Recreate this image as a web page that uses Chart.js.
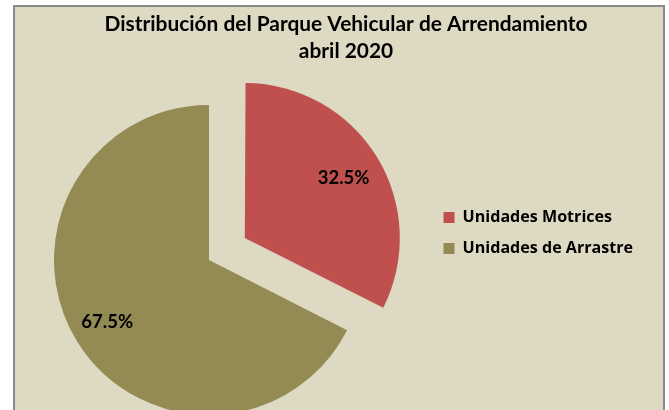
<!DOCTYPE html>
<html>
<head>
<meta charset="utf-8">
<script src="https://cdn.jsdelivr.net/npm/chart.js@4/dist/chart.umd.min.js"></script>
<style>
  html, body { margin: 0; padding: 0; width: 669px; height: 410px; overflow: hidden; background: #ffffff; }
  #frame { position: absolute; left: 13px; top: 5px; width: 652px; height: 430px; box-sizing: border-box;
           border: 2px solid #8a8a8a; background: #DDD9C3; }
  #wrap { position: absolute; left: -20px; top: 0px; width: 740px; height: 466px; }
</style>
</head>
<body>
<div id="frame"></div>
<div id="wrap"><canvas id="c"></canvas></div>
<script>
// ---- data ----
const titleLines = ['Distribución del Parque Vehicular de Arrendamiento', 'abril 2020'];
const categories = ['Unidades Motrices', 'Unidades de Arrastre'];
const shares = [32.5, 67.5];
const colors = ['#C0504D', '#948A54'];
const explodePx = [42, 0];

// keep an exploded slice the same radius as the others (Excel-style explosion)
const equalRadiusPlugin = {
  id: 'equalRadius',
  afterDatasetUpdate(chart, args) {
    args.meta.data.forEach(arc => {
      const shift = (arc.options.offset || 0) / 4;
      const fix = 1 - Math.sin(Math.min(Math.PI, arc.circumference || 0));
      arc.outerRadius -= shift * fix;
    });
  }
};

// fixed legend column width
const legendWidthPlugin = {
  id: 'legendWidth',
  beforeInit(chart) {
    const lg = chart.legend;
    if (!lg) return;
    const orig = lg.fit.bind(lg);
    lg.fit = function () {
      orig();
      const w = chart.options.plugins.legendWidth && chart.options.plugins.legendWidth.width;
      if (w) this.width = w;
    };
  }
};

// percentage labels inside the slices
const pctLabelPlugin = {
  id: 'pctLabels',
  afterDatasetsDraw(chart, args, opts) {
    const ctx = chart.ctx;
    const meta = chart.getDatasetMeta(0);
    ctx.save();
    ctx.font = opts.font;
    ctx.fillStyle = opts.color;
    ctx.textAlign = 'center';
    ctx.textBaseline = 'middle';
    meta.data.forEach((arc, i) => {
      const p = arc.getProps(['x', 'y', 'startAngle', 'endAngle', 'outerRadius'], true);
      const mid = (p.startAngle + p.endAngle) / 2;
      const r = (arc.options.offset || 0) / 4 + p.outerRadius * opts.position;
      const v = chart.data.datasets[0].data[i];
      ctx.fillText(v.toFixed(1) + '%', p.x + Math.cos(mid) * r, p.y + Math.sin(mid) * r);
    });
    ctx.restore();
  }
};

new Chart(document.getElementById('c'), {
  type: 'pie',
  data: {
    labels: categories,
    datasets: [{
      data: shares,
      backgroundColor: colors,
      borderWidth: 0,
      offset: explodePx.map(v => v * 4)
    }]
  },
  options: {
    responsive: true,
    maintainAspectRatio: false,
    animation: false,
    radius: 155,
    layout: { padding: { left: 9.4, right: 17.4, top: 10.4, bottom: 10.4 } },
    plugins: {
      title: {
        display: true,
        text: titleLines,
        color: '#000000',
        font: { family: 'Lato', size: 20.9, weight: 'bold', lineHeight: '27px' },
        padding: { top: 0, bottom: 0 }
      },
      legend: {
        position: 'right',
        labels: {
          boxWidth: 11,
          boxHeight: 11,
          padding: 14.9,
          color: '#000000',
          font: { family: 'Open Sans', size: 16.1, weight: 'bold' }
        }
      },
      legendWidth: { width: 274 },
      tooltip: { enabled: false },
      pctLabels: { font: 'bold 18.5px Lato', color: '#000000', position: 0.77 }
    }
  },
  plugins: [equalRadiusPlugin, legendWidthPlugin, pctLabelPlugin]
});
</script>
</body>
</html>
